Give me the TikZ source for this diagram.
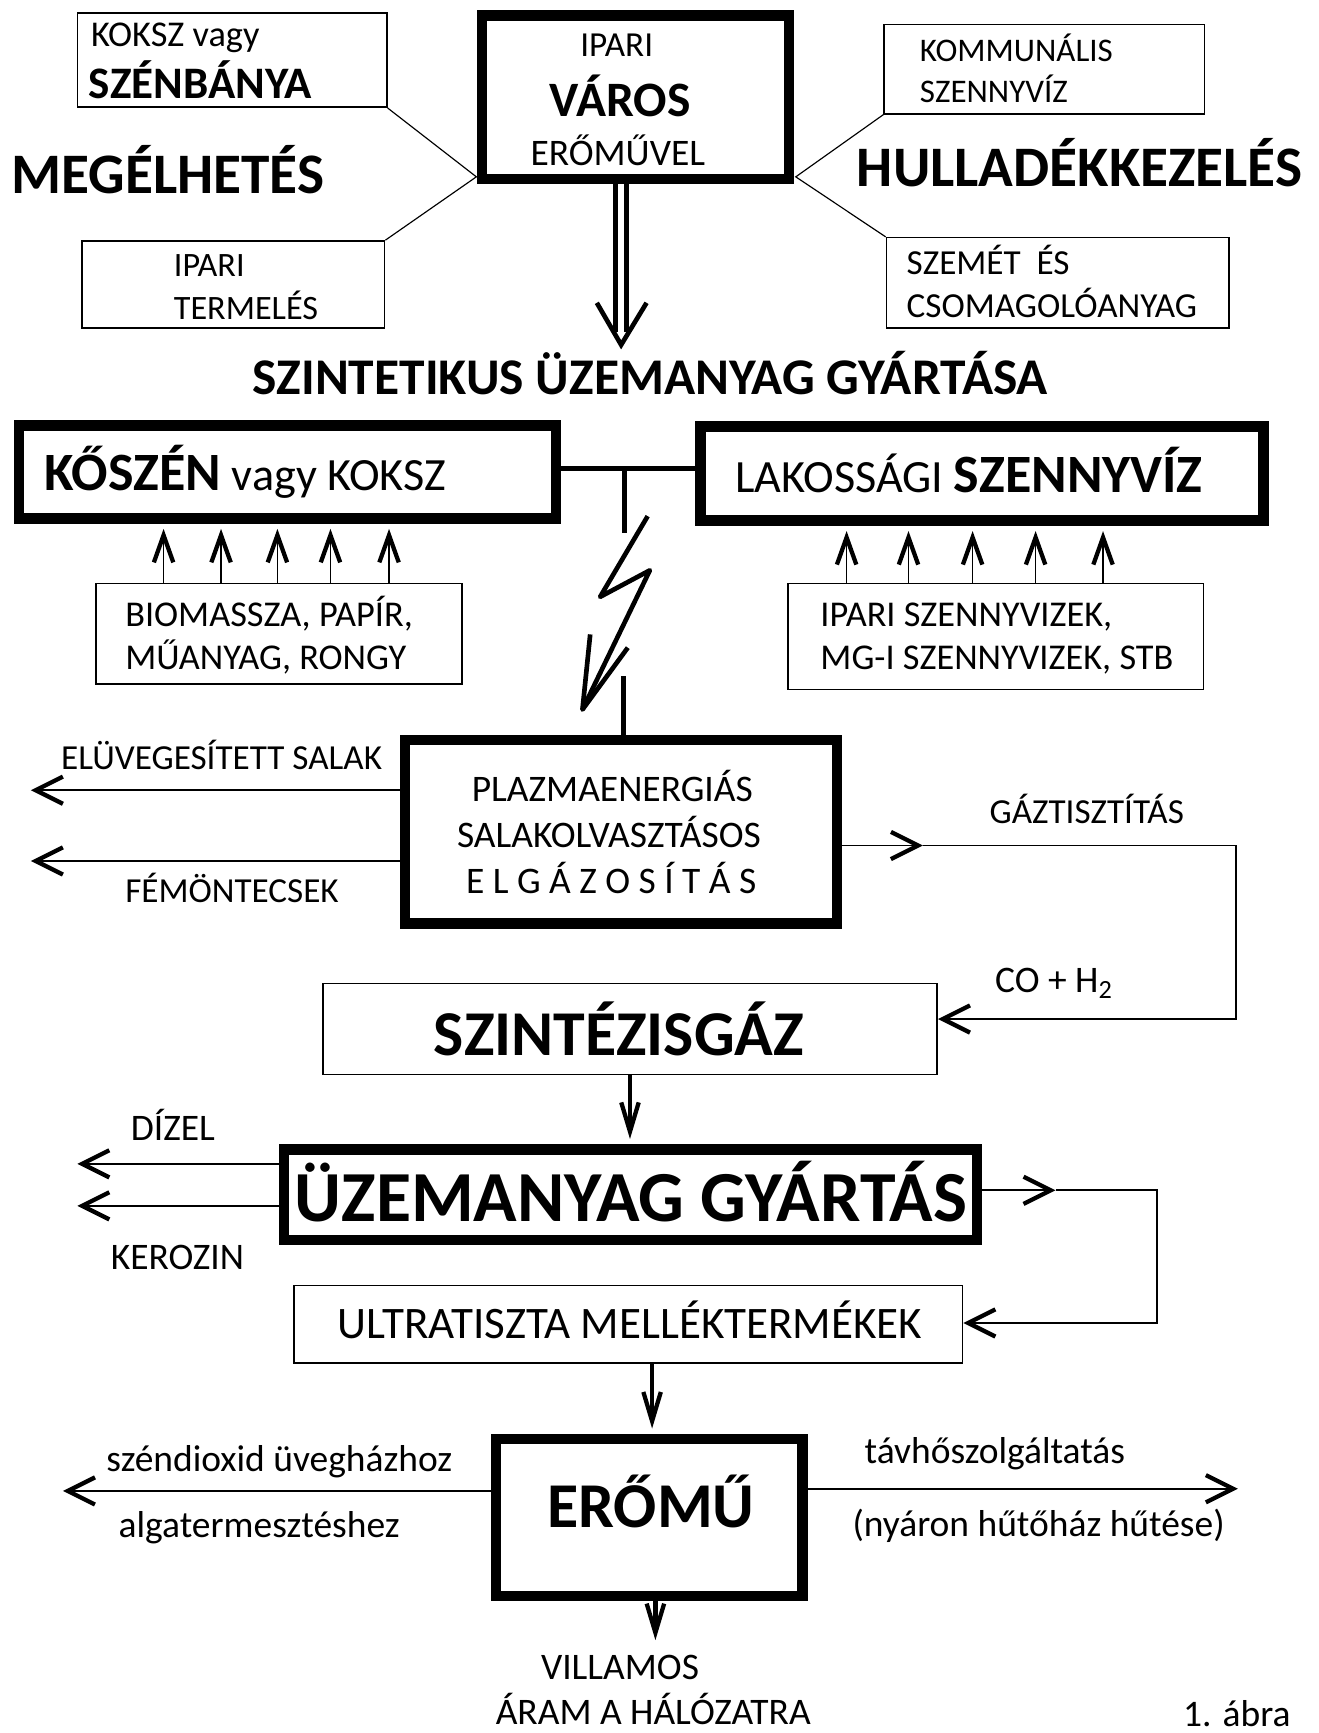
\documentclass[tikz,border=0pt]{standalone}
\usepackage{fontspec}
\setmainfont{Carlito}
\usetikzlibrary{arrows.meta}
\newcommand{\fz}[1]{\fontsize{#1}{#1}\selectfont}
\begin{document}
\begin{tikzpicture}[x=0.02cm,y=-0.02cm,
  >={Straight Barb[length=14pt,width=14pt,line width=2.2pt]},
  box/.style={draw,line width=0.8pt,inner sep=0pt},
  tbox/.style={draw,line width=5.4pt,inner sep=0pt},
  wh/.style 2 args={minimum width=#1*0.02cm,minimum height=#2*0.02cm},
  lbl/.style={inner sep=0pt,anchor=base west},
  clbl/.style={inner sep=0pt,anchor=base},
  ln/.style={line width=0.9pt},
  fat/.style={line width=2.4pt},
  up/.style={ln,-{Straight Barb[length=14pt,width=10pt,line width=2.2pt]},shorten >=2.7pt},
  down/.style={fat,-{Straight Barb[length=15pt,width=9pt,line width=2.2pt]},shorten >=2.7pt}]
  \useasboundingbox (0,0) rectangle (1193,1568);
  % town and its four boxes
  \node[box,wh={280}{85}] (koksz) at (210,54.5) {};
  \node[lbl,font=\fz{18.7pt}] (kokszA) at (82,42) {KOKSZ vagy};
  \node[lbl,font=\fz{23.2pt}\bfseries] (kokszB) at (80,89) {SZÉNBÁNYA};
  \node[box,wh={274}{79}] (termeles) at (211,257.5) {};
  \node[lbl,font=\fz{17.6pt}] (termA) at (157,250) {IPARI};
  \node[lbl,font=\fz{17.6pt}] (termB) at (157,289) {TERMELÉS};
  \node[tbox,wh={278}{148}] (varos) at (575,88) {};
  \node[clbl,font=\fz{18.1pt}] (varosA) at (558,51) {IPARI};
  \node[clbl,font=\fz{25.5pt}\bfseries] (varosB) at (561,105) {VÁROS};
  \node[clbl,font=\fz{19.3pt}] (varosC) at (559,150) {ERŐMŰVEL};
  \node[box,wh={290}{81}] (komm) at (945,62.5) {};
  \node[lbl,font=\fz{17pt}] (kommA) at (832,56) {KOMMUNÁLIS};
  \node[lbl,font=\fz{17pt}] (kommB) at (832,93) {SZENNYVÍZ};
  \node[box,wh={310}{82}] (szemet) at (957,256) {};
  \node[lbl,font=\fz{18.1pt}] (szemA) at (820,248) {SZEMÉT~~ÉS};
  \node[lbl,font=\fz{18.1pt}] (szemB) at (820,287) {CSOMAGOLÓANYAG};
  \node[lbl,font=\fz{29.5pt}\bfseries] (megel) at (10,175) {MEGÉLHETÉS};
  \node[lbl,font=\fz{29.5pt}\bfseries] (hull) at (775,169) {HULLADÉKKEZELÉS};
  % thin side lines
  \coordinate (vl) at (431,160);
  \coordinate (vr) at (720,160);
  \draw[line width=0.6pt] (koksz.south east) -- (vl) -- (termeles.north east);
  \draw[line width=0.6pt] (komm.south west) -- (vr) -- (szemet.north west);
  % double arrow
  \coordinate (dtip) at (562,312);
  \draw[line width=2.3pt,double,double distance=3.4pt] (varos.south -| dtip) -- (562,300);
  \draw[fat,line join=miter] (540,274) -- (dtip) -- (585,274);
  \node[lbl,font=\fz{26.5pt}\bfseries] (synt) at (228,357) {SZINTETIKUS ÜZEMANYAG GYÁRTÁSA};
  % feed boxes
  \node[tbox,wh={486}{84}] (koszen) at (260,427) {};
  \node[lbl,font=\fz{23.8pt}] (koszenT) at (40,444) {{\fz{27.8pt}\bfseries KŐSZÉN} vagy KOKSZ};
  \node[tbox,wh={509}{85}] (lakos) at (888.5,428.5) {};
  \node[lbl,font=\fz{23.8pt}] (lakosT) at (665,446) {LAKOSSÁGI {\fz{27.8pt}\bfseries SZENNYVÍZ}};
  \coordinate (jn) at (565,424);
  \draw[fat] (koszen.east |- jn) -- (lakos.west |- jn);
  \node[box,wh={331}{91}] (bio) at (252.5,573.5) {};
  \node[lbl,font=\fz{18.7pt}] (bioA) at (113,567) {BIOMASSZA, PAPÍR,};
  \node[lbl,font=\fz{18.7pt}] (bioB) at (113,606) {MŰANYAG, RONGY};
  \node[box,wh={376}{96}] (ipsz) at (901,576) {};
  \node[lbl,font=\fz{18.7pt}] (ipszA) at (742,567) {IPARI SZENNYVIZEK,};
  \node[lbl,font=\fz{18.7pt}] (ipszB) at (742,606) {MG-I SZENNYVIZEK, STB};
  \foreach \x in {148,200,251,299,352} \draw[up] (\x,0 |- bio.north) -- (\x,0 |- koszen.south);
  \foreach \x in {766,822,880,937,998} \draw[up] (\x,0 |- ipsz.north) -- (\x,0 |- lakos.south);
  % plasma gasifier
  \node[tbox,wh={391}{166}] (plazma) at (562,752.5) {};
  \node[clbl,font=\fz{19.3pt}] (plA) at (554,725) {PLAZMAENERGIÁS};
  \node[clbl,font=\fz{19.3pt}] (plB) at (551,767) {SALAKOLVASZTÁSOS};
  \node[clbl,font=\fz{19.3pt}] (plC) at (553,808) {E L G Á Z O S Í T Á S};
  % lightning
  \coordinate (bt) at (565,482);
  \draw[fat] (jn) -- (bt);
  \coordinate (z1) at (586,467);
  \coordinate (z2) at (543,540);
  \coordinate (z3) at (588,516);
  \coordinate (z4) at (527,642);
  \draw[fat,line join=round] (z1) -- (z2) -- (z3) -- (z4);
  \draw[fat,line join=round] (534,574) -- (z4) -- (568,586);
  \coordinate (bb) at (564,612);
  \draw[fat] (bb) -- (plazma.north -| bb);
  % slag and metal
  \coordinate (slag) at (28,715);
  \coordinate (metal) at (28,779);
  \draw[ln,->] (plazma.west |- slag) -- (slag);
  \draw[ln,->] (plazma.west |- metal) -- (metal);
  \node[lbl,font=\fz{18.1pt}] (slagT) at (55,696) {ELÜVEGESÍTETT SALAK};
  \node[lbl,font=\fz{18.1pt}] (metalT) at (113,817) {FÉMÖNTECSEK};
  % syngas
  \node[box,wh={556}{82}] (szint) at (570,931) {};
  \node[clbl,font=\fz{32.9pt}\bfseries] (szintT) at (560,955) {SZINTÉZISGÁZ};
  \coordinate (gt) at (835,765);
  \coordinate (gr) at (1118,765);
  \coordinate (gb) at (1118,922);
  \draw[ln,->] (plazma.east |- gt) -- (gt);
  \draw[ln,->] (gt) -- (gr) -- (gb) -- (szint.east |- gb);
  \node[lbl,font=\fz{18.1pt}] (gasT) at (895,745) {GÁZTISZTÍTÁS};
  \node[lbl,font=\fz{19.3pt}] (coT) at (900,898) {CO + H\textsubscript{2}};
  % fuel
  \node[tbox,wh={627}{82}] (uzem) at (570.5,1081) {};
  \node[clbl,font=\fz{37pt}\bfseries] (uzemT) at (571,1105) {ÜZEMANYAG GYÁRTÁS};
  \draw[down] (570,0 |- szint.south) -- (570,0 |- uzem.north);
  \coordinate (diz) at (70,1053);
  \coordinate (ker) at (70,1091);
  \draw[ln,->] (uzem.west |- diz) -- (diz);
  \draw[ln,->] (uzem.west |- ker) -- (ker);
  \node[lbl,font=\fz{19.3pt}] (dizT) at (118,1032) {DÍZEL};
  \node[lbl,font=\fz{19.3pt}] (kerT) at (100,1149) {KEROZIN};
  \node[box,wh={605}{70}] (ultra) at (568.5,1198) {};
  \node[clbl,font=\fz{23.2pt}] (ultraT) at (570,1211) {ULTRATISZTA MELLÉKTERMÉKEK};
  \coordinate (ut) at (955,1077);
  \coordinate (ur) at (1047,1077);
  \coordinate (ub) at (1047,1197);
  \draw[ln,->] (uzem.east |- ut) -- (ut);
  \draw[ln,->] (ut) -- (ur) -- (ub) -- (ultra.east |- ub);
  % power plant
  \node[tbox,wh={277}{142}] (eromu) at (587.5,1373) {};
  \node[clbl,font=\fz{32.9pt}\bfseries] (eromuT) at (589,1382) {ERŐMŰ};
  \draw[down] (590,0 |- ultra.south) -- (590,0 |- eromu.north);
  \coordinate (co2) at (57,1349);
  \coordinate (heat) at (1120,1347);
  \coordinate (grid) at (593,1484);
  \draw[ln,->] (eromu.west |- co2) -- (co2);
  \draw[ln,->] (eromu.east |- heat) -- (heat);
  \draw[down,shorten >=0pt] (eromu.south -| grid) -- (grid);
  \node[lbl,font=\fz{19.3pt}] (co2A) at (96,1331) {széndioxid üvegházhoz};
  \node[lbl,font=\fz{19.3pt}] (co2B) at (107,1391) {algatermesztéshez};
  \node[lbl,font=\fz{19.3pt}] (heatA) at (782,1324) {távhőszolgáltatás};
  \node[lbl,font=\fz{19.3pt}] (heatB) at (771,1390) {(nyáron hűtőház hűtése)};
  \node[clbl,font=\fz{19.3pt}] (gridA) at (561,1520) {VILLAMOS};
  \node[clbl,font=\fz{19.3pt}] (gridB) at (591,1560) {ÁRAM A HÁLÓZATRA};
  \node[lbl,font=\fz{19.3pt}] (fig) at (1070,1562) {1. ábra};
\end{tikzpicture}
\end{document}
